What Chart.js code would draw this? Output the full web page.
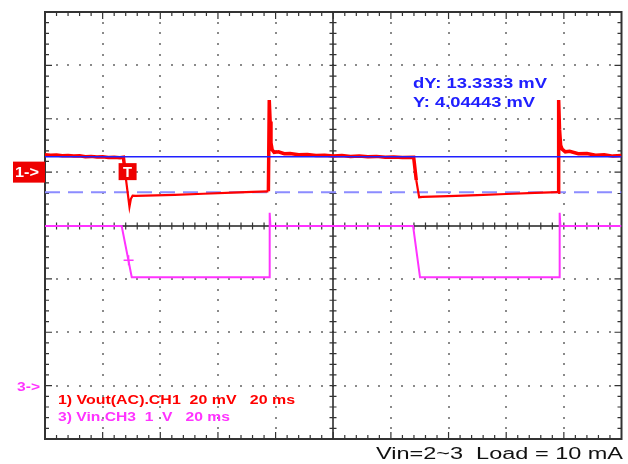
<!DOCTYPE html>
<html>
<head>
<meta charset="utf-8">
<script src="https://cdn.jsdelivr.net/npm/chart.js@4.4.1/dist/chart.umd.min.js"></script>
<style>
html,body{margin:0;padding:0;background:#fff;}
#wrap{width:628px;height:464px;position:relative;}
</style>
</head>
<body>
<div id="wrap"><canvas id="c" width="628" height="464"></canvas></div>
<script>
// ---- Data (time in ms, 20 ms/div, 10 divisions) ----
const ch1Time = [0, 2, 4, 6, 8, 10, 12, 14, 16, 18, 20, 22, 24, 26, 27.2, 27.9, 28.6, 29.3, 29.8, 30.4, 31.5, 35, 45, 55, 65, 72, 77.5, 77.8, 78.1, 78.4, 78.8, 79.5, 81, 83, 85, 88, 91, 94, 97, 100, 103, 106, 109, 112, 115, 118, 121, 124, 127.9, 128.8, 129.8, 131, 140, 150, 160, 170, 178.0, 178.2, 178.5, 178.9, 179.4, 180.5, 182, 185, 188, 191, 194, 197, 200];
const ch1mV   = [6.5, 6.3, 6.4, 6.1, 6.2, 6.0, 6.1, 5.8, 5.9, 5.7, 5.8, 5.5, 5.6, 5.4, 5.6, -1, -7, -13, -10, -8.8, -8.9, -8.8, -8.5, -8.1, -7.7, -7.4, -7.2, 27, 19, 11, 8.4, 7.4, 7.6, 6.9, 7.0, 6.5, 6.6, 6.2, 6.3, 6.0, 6.2, 5.9, 6.0, 5.8, 5.9, 5.6, 5.7, 5.5, 5.6, -3, -9.4, -9.3, -9.0, -8.6, -8.2, -7.8, -7.5, 27, 16, 10, 8.6, 7.6, 7.8, 6.9, 7.0, 6.3, 6.5, 6.0, 6.2];
const ch3Time = [0, 26.6, 30.1, 77.8, 77.9, 78.0, 78.2, 127.7, 130.1, 178.4, 178.5, 178.6, 178.8, 200];
const ch3V    = [2.99, 2.99, 2.03, 2.03, 3.0, 3.24, 2.99, 2.99, 2.03, 2.03, 3.0, 3.24, 2.99, 2.99];
const cursorsmV = [5.8, -7.53];          // solid, dashed cursor levels (CH1)
const triggerTime = 29.0, triggerV = 2.35;
const cursorText = ["dY: 13.3333 mV", "Y: 4.04443 mV"];
const legendText = ["1) Vout(AC).CH1  20 mV   20 ms", "3) Vin.CH3  1  V   20 ms"];
const footerText = "Vin=2~3  Load = 10 mA";

const RED = "#ff0000", MAG = "#ff33ff", BLUE = "#2020ff";

function pts(xs, ys){ return xs.map((x,i)=>({x:x, y:ys[i]})); }

function fitText(ctx, txt, x, base, width, font, color){
  ctx.save();
  ctx.font = font;
  const w = ctx.measureText(txt).width;
  ctx.translate(x, base);
  ctx.scale(width / w, 1);
  ctx.fillStyle = color;
  ctx.textBaseline = "alphabetic";
  ctx.textAlign = "left";
  ctx.fillText(txt, 0, 0);
  ctx.restore();
}

const scopePlugin = {
  id: "scope",
  beforeDatasetsDraw(chart){
    const ctx = chart.ctx, a = chart.chartArea;
    const xs = chart.scales.x, ys = chart.scales.y3;
    const X = v => xs.getPixelForValue(v);
    const Y = v => ys.getPixelForValue(v);
    ctx.save();
    // dotted grid
    ctx.fillStyle = "#8a8a8a";
    for (let i = 1; i < 10; i++) {
      if (i === 5) continue;
      const px = Math.round(X(i * 20));
      for (let k = 1; k < 40; k++) {
        const py = Math.round(Y(-1 + k * 0.2));
        ctx.fillRect(px - 1, py - 1, 2, 2);
      }
    }
    for (let j = 0; j <= 6; j++) {
      if (j === 3) continue;
      const py = Math.round(Y(j));
      for (let k = 1; k < 50; k++) {
        const px = Math.round(X(k * 4));
        ctx.fillRect(px - 1, py - 1, 2, 2);
      }
    }
    // frame
    ctx.strokeStyle = "#333";
    ctx.lineWidth = 2;
    ctx.strokeRect(a.left, a.top, a.right - a.left, a.bottom - a.top);
    // centre axes
    const cx = Math.round(X(100)), cy = Math.round(Y(3));
    ctx.lineWidth = 1.5;
    ctx.strokeStyle = "#222";
    ctx.beginPath();
    ctx.moveTo(cx, a.top); ctx.lineTo(cx, a.bottom);
    ctx.moveTo(a.left, cy); ctx.lineTo(a.right, cy);
    ctx.stroke();
    // ticks
    ctx.lineWidth = 1.2;
    ctx.strokeStyle = "#333";
    ctx.beginPath();
    for (let k = 1; k < 50; k++) {
      const px = X(k * 4);
      const major = k % 5 === 0;
      const L = major ? 7 : 4;
      ctx.moveTo(px, a.top); ctx.lineTo(px, a.top + L);
      ctx.moveTo(px, a.bottom); ctx.lineTo(px, a.bottom - L);
      ctx.moveTo(px, cy - 3.5); ctx.lineTo(px, cy + 3.5);
    }
    for (let k = 1; k < 40; k++) {
      const py = Y(-1 + k * 0.2);
      const major = k % 5 === 0;
      const L = major ? 7 : 4;
      ctx.moveTo(a.left, py); ctx.lineTo(a.left + L, py);
      ctx.moveTo(a.right, py); ctx.lineTo(a.right - L, py);
      ctx.moveTo(cx - 3.5, py); ctx.lineTo(cx + 3.5, py);
    }
    ctx.stroke();
    ctx.restore();
  },
  afterDatasetsDraw(chart){
    const ctx = chart.ctx;
    const xs = chart.scales.x, y1 = chart.scales.y1, y3 = chart.scales.y3;
    ctx.save();
    // CH1 ground marker "1->"
    const g1 = y1.getPixelForValue(0);
    ctx.fillStyle = "#ee0000";
    ctx.fillRect(13, g1 - 10.5, 32, 21);
    fitText(ctx, "1->", 15, g1 + 5, 24, "bold 14px 'Liberation Sans', Arial", "#fff");
    // trigger marker "T"
    const tx = xs.getPixelForValue(triggerTime) - 1;
    ctx.fillStyle = "#ee0000";
    ctx.fillRect(tx - 9, g1 - 9, 18, 17);
    fitText(ctx, "T", tx - 4.5, g1 + 5, 9, "bold 14px 'Liberation Sans', Arial", "#fff");
    // CH3 ground marker "3->"
    const g3 = y3.getPixelForValue(0);
    fitText(ctx, "3->", 17, g3 + 5, 23, "bold 13px 'Liberation Sans', Arial", MAG);
    // cursor readout
    fitText(ctx, cursorText[0], 413, 88, 134, "bold 14px 'Liberation Sans', Arial", BLUE);
    fitText(ctx, cursorText[1], 413, 107, 122, "bold 14px 'Liberation Sans', Arial", BLUE);
    // legend
    fitText(ctx, legendText[0], 58, 404, 237, "bold 12px 'Liberation Sans', Arial", RED);
    fitText(ctx, legendText[1], 58, 421, 172, "bold 12px 'Liberation Sans', Arial", MAG);
    // footer
    fitText(ctx, footerText, 376, 459, 247, "16px 'Liberation Sans', Arial", "#111");
    ctx.restore();
  }
};

new Chart(document.getElementById("c"), {
  type: "scatter",
  data: {
    datasets: [
      { label: "cursor1", data: pts([0, 200], [cursorsmV[0], cursorsmV[0]]), yAxisID: "y1",
        showLine: true, borderColor: BLUE, borderWidth: 1.5, pointRadius: 0, order: 0 },
      { label: "CH1", data: pts(ch1Time, ch1mV), yAxisID: "y1",
        showLine: true, borderColor: RED, borderWidth: 3.5, pointRadius: 0, order: 1, tension: 0,
        segment: { borderWidth: c => (c.p0.parsed.y < 0 && c.p1.parsed.y < 0) ? 2.2 : 3.5 } },
      { label: "CH3", data: pts(ch3Time, ch3V), yAxisID: "y3",
        showLine: true, borderColor: MAG, borderWidth: 2, pointRadius: 0, order: 1, tension: 0 },
      { label: "trig", data: [{x: triggerTime, y: triggerV}], yAxisID: "y3",
        showLine: false, pointStyle: "cross", pointRadius: 5, borderColor: MAG, borderWidth: 1.5, order: 0 },
      { label: "cursor2", data: pts([0, 200], [cursorsmV[1], cursorsmV[1]]), yAxisID: "y1",
        showLine: true, borderColor: "#8c8cff", borderWidth: 2, borderDash: [15, 8], pointRadius: 0, order: 2 }
    ]
  },
  options: {
    responsive: false,
    animation: false,
    devicePixelRatio: 1,
    layout: { padding: { left: 45, top: 12, right: 5, bottom: 25 } },
    plugins: { legend: { display: false }, tooltip: { enabled: false } },
    scales: {
      x:  { type: "linear", min: 0, max: 200, display: false },
      y1: { type: "linear", min: -100, max: 60, display: false },
      y3: { type: "linear", min: -1, max: 7, display: false }
    }
  },
  plugins: [scopePlugin]
});
</script>
</body>
</html>
